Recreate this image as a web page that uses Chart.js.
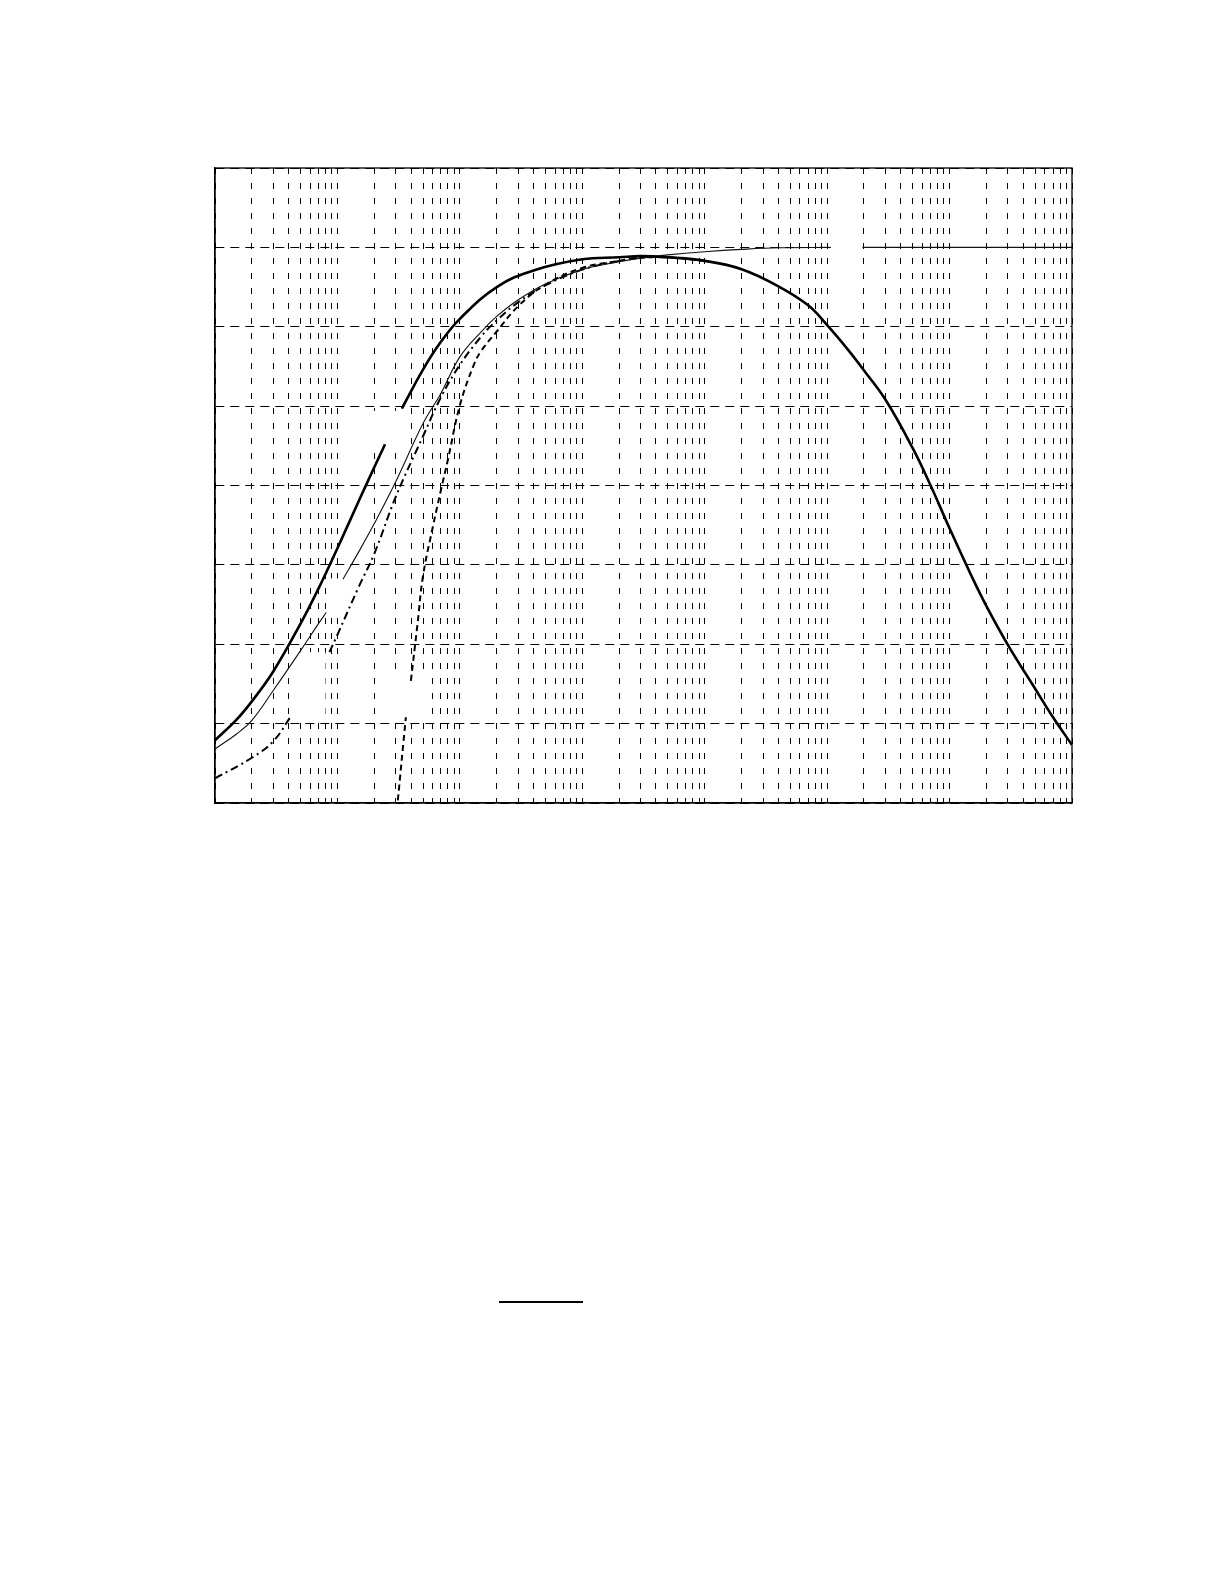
<!DOCTYPE html>
<html lang="en">
<head>
<meta charset="UTF-8">
<title>response</title>
<script src="https://cdn.jsdelivr.net/npm/chart.js@4"></script>
<style>
  body { margin: 0; background: #fff; width: 1225px; height: 1585px; position: relative; overflow: hidden; }
  #wrap { position: absolute; left: 205px; top: 158px; width: 877px; height: 655px; }
  #bar { position: absolute; left: 499px; top: 1301px; width: 84px; border-top: 2.5px solid #000; }
</style>
</head>
<body>
<div id="wrap"><canvas id="myChart"></canvas></div>
<div id="bar"></div>
<script>
// frequency / level readings (null = gap in the trace)
const thickFreq = [1, 1.5, 2, 3, 5, 7, 10, 15, 20, 24.5, 29, 33.6, 50, 70, 100, 200, 400, 1000, 2000, 3000, 5000,
  1e4, 2e4, 4e4, 7e4, 1e5, 1.5e5, 2e5, 3e5, 5e5, 7e5, 1e6, 1.5e6, 2e6, 3e6, 5e6, 7e6, 1e7];
const thickDb = [-62.1, -59.5, -57.2, -53.4, -47.4, -43.0, -37.9, -31.9, -27.7, -24.8, null, -20.3, -15.4, -11.9, -9.0, -5.0, -2.9, -1.5, -1.25, -1.1, -1.25,
  -1.7, -2.75, -4.9, -7.3, -9.8, -13.0, -15.5, -19.2, -25.3, -30.0, -35.4, -41.3, -45.2, -50.1, -55.6, -59.2, -62.7];

const thinFreq = [1, 1.5, 2, 3, 5, 7, 8.1, 9.5, 11.1, 15, 20, 30, 50, 70, 100, 150, 200, 300, 500, 1000, 2000,
  3000, 5000, 1e4, 2e4, 4e4, 1.07e5, 1.45e5, 1.95e5, 1e6, 1e7];
const thinDb = [-63.2, -61.3, -59.6, -55.8, -50.8, -47.4, -46.0, null, -41.8, -38.3, -34.8, -29.5, -22.2, -18.4, -13.8, -10.6, -8.7, -6.6, -4.6, -2.8, -1.8,
  -1.35, -0.95, -0.55, -0.25, -0.05, 0, null, 0, 0, 0];

const dashDotFreq = [1, 2, 3, 4.2, 6, 8.6, 10, 15, 20, 30, 50, 70, 100, 150, 200, 300, 500, 1000, 2000, 3000, 5000, 1e4];
const dashDotDb = [-66.9, -64.3, -62.2, -59.0, null, -51.0, -48.8, -42.7, -38.6, -31.4, -23.8, -18.9, -14.8, -11.2, -9.2, -6.9, -4.8, -2.8, -1.7, -1.3, -1.25, -1.7];

const dashedFreq = [30, 31, 36.2, 38, 39.8, 45, 50, 60, 70, 80, 100, 130, 150, 200, 300, 500, 1000, 2000, 3000, 5000, 1e4];
const dashedDb = [-72.2, -70, -59.2, null, -54.6, -47.6, -41.4, -35.3, -30.6, -26.7, -19.9, -14.8, -13.0, -10.6, -7.4, -4.7, -2.6, -1.7, -1.3, -1.25, -1.7];

// grid: 1..9 in every decade
const decades = [1, 10, 100, 1e3, 1e4, 1e5, 1e6];
const mantissas = [1, 2, 3, 4, 5, 6, 7, 8, 9];
const xGrid = [];
decades.forEach(d => mantissas.forEach(m => xGrid.push(m * d)));
xGrid.push(1e7);

// blanked-out patches of the grid [x1, x2, yLow, yHigh]
const erased = [
  [4.6, 8.0, -59, -51],
  [25, 54, -59.2, -54.0],
  [8.1, 11.1, -46, -41.7],
  [11.6, 32, -25.6, -20.6],
  [1.07e5, 1.95e5, -1, 1]
];

function pts(xs, ys) {
  return xs.map((x, i) => ({ x: x, y: ys[i] }));
}

const paper = {
  id: 'paper',
  beforeDatasetsDraw(chart) {
    const ctx = chart.ctx, x = chart.scales.x, y = chart.scales.y;
    ctx.save();
    ctx.fillStyle = '#fff';
    erased.forEach(b => {
      const l = x.getPixelForValue(b[0]), r = x.getPixelForValue(b[1]);
      const t = y.getPixelForValue(b[3]), bt = y.getPixelForValue(b[2]);
      ctx.fillRect(l, t, r - l, bt - t);
    });
    ctx.restore();
  },
  afterDraw(chart) {
    const ctx = chart.ctx, a = chart.chartArea;
    ctx.save();
    ctx.strokeStyle = '#000';
    ctx.lineWidth = 1.3;
    ctx.strokeRect(a.left, a.top, a.right - a.left, a.bottom - a.top);
    ctx.restore();
  }
};

const ctx = document.getElementById('myChart').getContext('2d');
const myChart = new Chart(ctx, {
  type: 'line',
  data: {
    datasets: [
      { label: 'thick', data: pts(thickFreq, thickDb), borderColor: '#000', borderWidth: 2.6, fill: false },
      { label: 'thin', data: pts(thinFreq, thinDb), borderColor: '#111', borderWidth: 1.1, fill: false },
      { label: 'dash-dot', data: pts(dashDotFreq, dashDotDb), borderColor: '#000', borderWidth: 2, borderDash: [8, 4, 2, 4], fill: false },
      { label: 'dashed', data: pts(dashedFreq, dashedDb), borderColor: '#000', borderWidth: 2, borderDash: [6, 4], fill: false }
    ]
  },
  options: {
    responsive: true,
    maintainAspectRatio: false,
    animation: false,
    spanGaps: false,
    layout: { padding: 10, autoPadding: false },
    plugins: { legend: { display: false }, tooltip: { enabled: false } },
    elements: { point: { radius: 0 }, line: { tension: 0.4 } },
    scales: {
      x: {
        type: 'logarithmic', min: 1, max: 1e7,
        afterBuildTicks: s => { s.ticks = xGrid.map(v => ({ value: v })); },
        ticks: { display: false },
        grid: { color: '#000', lineWidth: 1, drawTicks: false },
        border: { display: true, color: '#000', width: 1.3, dash: [6, 9] }
      },
      y: {
        type: 'linear', min: -70, max: 10,
        ticks: { display: false, stepSize: 10 },
        grid: { color: '#000', lineWidth: 1, drawTicks: false },
        border: { display: true, color: '#000', width: 1.3, dash: [9, 6] }
      }
    }
  },
  plugins: [paper]
});
</script>
</body>
</html>
